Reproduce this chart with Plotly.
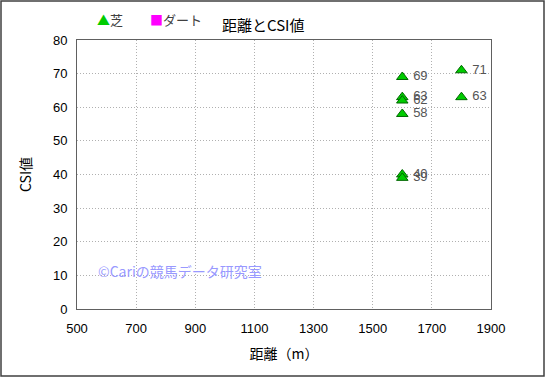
import plotly.graph_objects as go

# Data
turf_distance = [1600, 1600, 1600, 1600, 1600, 1600, 1800, 1800]
turf_csi = [69, 63, 62, 58, 40, 39, 71, 63]
dirt_distance = []
dirt_csi = []
x_ticks = [500, 700, 900, 1100, 1300, 1500, 1700, 1900]
y_ticks = [0, 10, 20, 30, 40, 50, 60, 70, 80]

FONT = "Liberation Sans, Noto Sans CJK JP, sans-serif"
JP = "Noto Sans CJK JP, sans-serif"

L, R, T, B = 77, 491, 40, 309
W, H = R - L, B - T

fig = go.Figure()
fig.add_trace(go.Scatter(
    x=turf_distance, y=turf_csi, mode="markers+text", name="芝",
    text=[" " + str(v) for v in turf_csi], textposition="middle right",
    textfont=dict(size=13, color="#555555", family=FONT),
    marker=dict(symbol="triangle-up", size=10, color="#00cc00",
                line=dict(color="#006600", width=1)),
    cliponaxis=False, showlegend=False,
))
fig.add_trace(go.Scatter(
    x=dirt_distance, y=dirt_csi, mode="markers", name="ダート",
    marker=dict(symbol="square", size=9, color="#ff00ff"),
    showlegend=False,
))

grid = dict(showgrid=True, gridcolor="#b0b0b0", griddash="1px,2px", gridwidth=1,
            showline=True, linecolor="#606060", linewidth=1, mirror=True,
            zeroline=False, ticks="", tickfont=dict(size=13, color="#000", family=FONT))

fig.update_layout(
    width=545, height=377,
    margin=dict(l=L, r=545 - R, t=T, b=377 - B),
    paper_bgcolor="white", plot_bgcolor="white",
    xaxis=dict(range=[500, 1900], tickvals=x_ticks, ticklabelstandoff=7, **grid,
               title=dict(text="距離（m）", font=dict(size=14, color="#000", family=JP), standoff=14)),
    yaxis=dict(range=[0, 80], tickvals=y_ticks, ticklabelstandoff=6, **grid,
               title=dict(text="CSI値", font=dict(size=14, color="#000", family=JP), standoff=18)),
    font=dict(family=FONT),
)


def px_x(px):
    return (px - L) / W


def px_y(py):
    return (B - py) / H


# Outer frame
fig.add_shape(type="rect", xref="paper", yref="paper",
              x0=px_x(1), x1=px_x(544), y0=px_y(376), y1=px_y(1),
              line=dict(color="#404040", width=1.5))

# Title
fig.add_annotation(text="距離とCSI値", xref="paper", yref="paper",
                   x=px_x(263), y=px_y(24), xanchor="center", yanchor="middle", showarrow=False,
                   font=dict(size=15, color="#000", family=JP))
# Legend as annotations
fig.add_annotation(text="<span style='color:#00cc00'>▲</span>芝", xref="paper", yref="paper",
                   x=px_x(95), y=px_y(19), xanchor="left", yanchor="middle", showarrow=False,
                   font=dict(size=13, color="#404040", family=JP))
fig.add_annotation(text="<span style='color:#ff00ff'>■</span>ダート", xref="paper", yref="paper",
                   x=px_x(148), y=px_y(19), xanchor="left", yanchor="middle", showarrow=False,
                   font=dict(size=13, color="#404040", family=JP))
# Watermark
fig.add_annotation(text="©Cariの競馬データ研究室", xref="paper", yref="paper",
                   x=px_x(96), y=px_y(271), xanchor="left", yanchor="middle", showarrow=False,
                   font=dict(size=14, color="#9999ff", family=JP))

fig.write_html("out.html", config={"displayModeBar": False},
               post_script="document.body.style.margin='0';")
